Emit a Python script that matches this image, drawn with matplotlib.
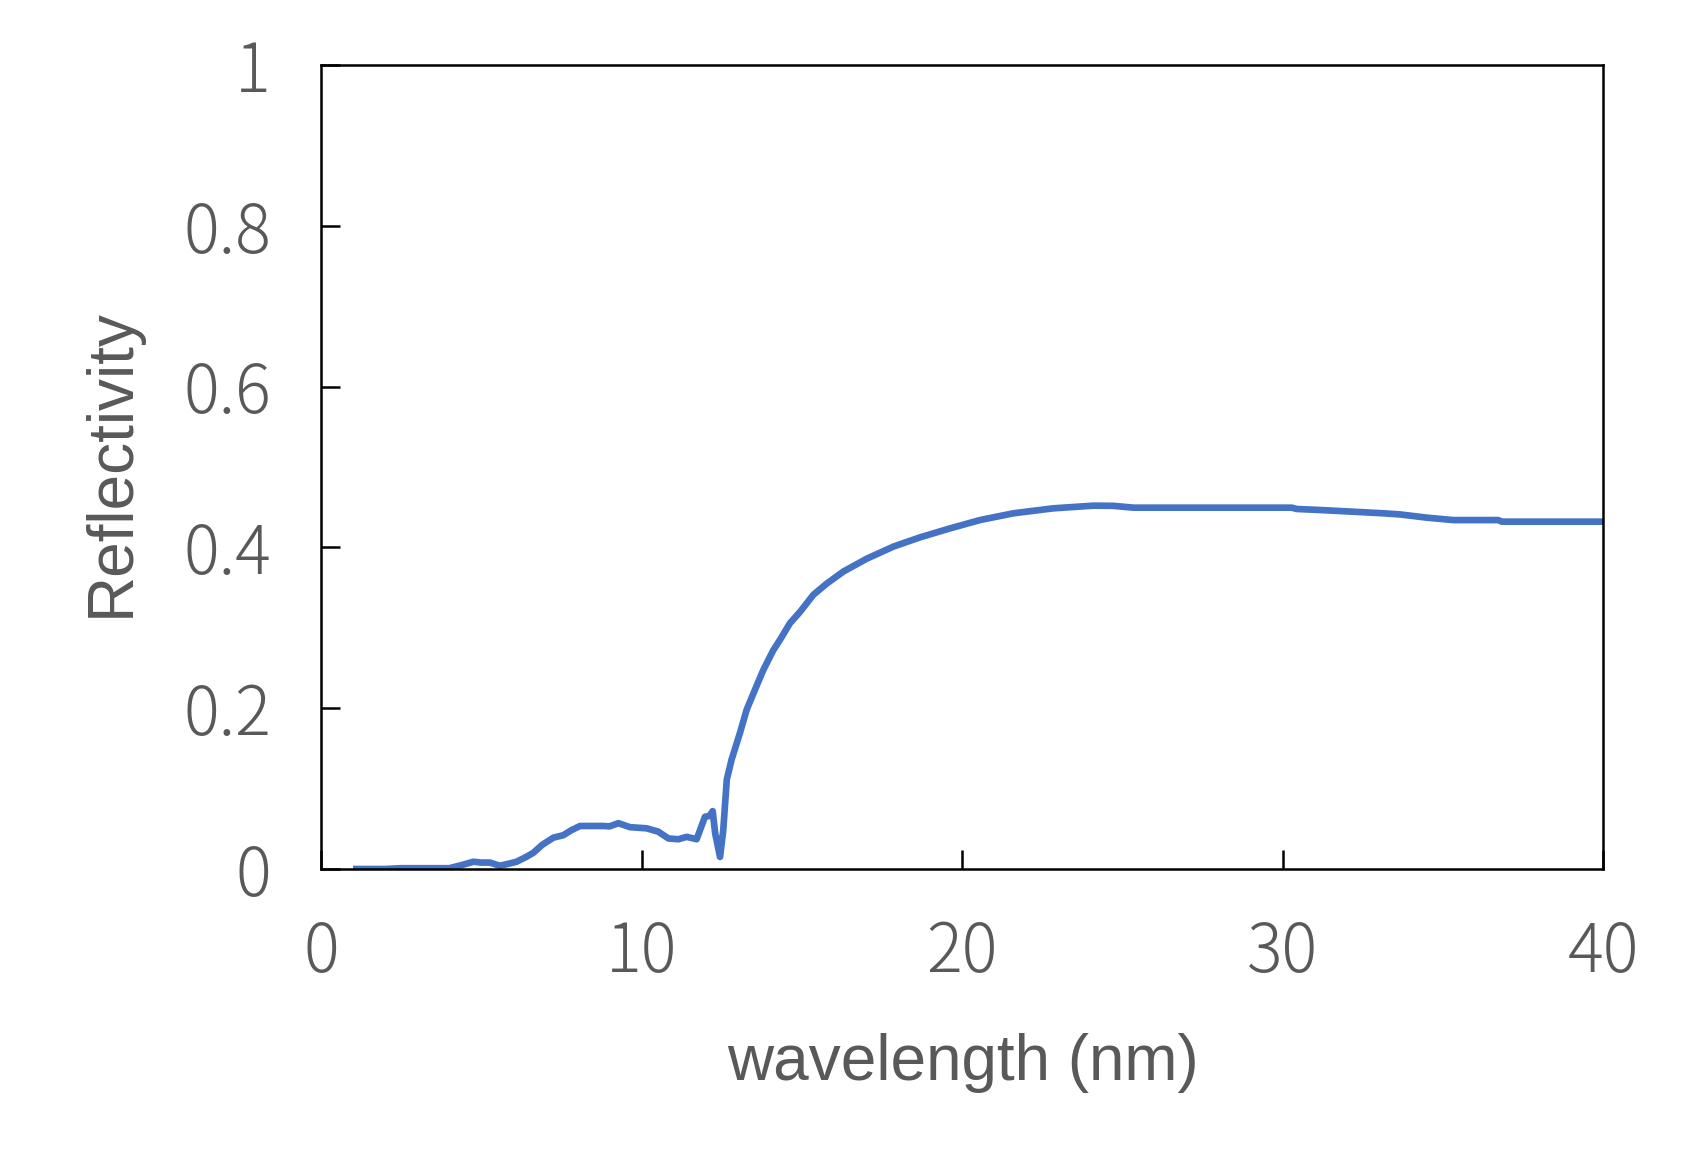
import matplotlib
matplotlib.use("Agg")
import matplotlib.pyplot as plt
import numpy as np

# reflectivity curve
wavelength = [1.0, 2.0, 2.5, 3.0, 4.0, 4.4, 4.75, 5.0, 5.27, 5.58, 5.9, 6.1,
              6.4, 6.62, 6.9, 7.25, 7.56, 7.8, 8.08, 8.4, 8.81, 9.0, 9.28,
              9.64, 10.16, 10.52, 10.84, 11.15, 11.41, 11.72, 11.98, 12.12,
              12.22, 12.3, 12.45, 12.55, 12.66, 12.81, 13.07, 13.28, 13.54,
              13.8, 14.11, 14.32, 14.63, 14.95, 15.36, 15.78, 16.3, 17.03,
              17.86, 18.69, 19.63, 20.56, 21.6, 22.85, 24.1, 24.72, 25.35,
              30.29, 30.44, 31.17, 32.2, 33.15, 33.67, 34.5, 35.33, 36.73,
              36.84, 40.0]
reflectivity = [0.0, 0.0, 0.001, 0.001, 0.001, 0.005, 0.009, 0.008, 0.008,
                0.004, 0.007, 0.009, 0.015, 0.020, 0.030, 0.039, 0.042, 0.048,
                0.0535, 0.0535, 0.0535, 0.053, 0.057, 0.052, 0.0506, 0.0465,
                0.038, 0.037, 0.040, 0.037, 0.065, 0.066, 0.072, 0.044, 0.015,
                0.048, 0.111, 0.136, 0.169, 0.198, 0.223, 0.2475, 0.272, 0.285,
                0.3056, 0.320, 0.341, 0.355, 0.370, 0.386, 0.401, 0.4125,
                0.4237, 0.434, 0.4424, 0.4486, 0.4519, 0.4517, 0.4494, 0.4494,
                0.4478, 0.4465, 0.4444, 0.4424, 0.441, 0.437, 0.434, 0.434,
                0.432, 0.432]

xticks = [0, 10, 20, 30, 40]
yticks = [0, 0.2, 0.4, 0.6, 0.8, 1]
ytick_labels = ["0", "0.2", "0.4", "0.6", "0.8", "1"]

text_color = "#595959"
line_color = "#4472C4"

fig = plt.figure(figsize=(16.89, 11.69), dpi=100)
ax = fig.add_axes([0.19006, 0.25663, 0.75903, 0.68777])

ax.plot(wavelength, reflectivity, color=line_color, linewidth=4.8,
        solid_joinstyle="round", solid_capstyle="butt")

ax.set_xlim(0, 40)
ax.set_ylim(0, 1)
ax.set_xticks(xticks)
ax.set_yticks(yticks)
ax.set_yticklabels(ytick_labels)

for s in ax.spines.values():
    s.set_linewidth(1.8)
    s.set_color("black")

ax.tick_params(direction="in", length=14, width=1.8, color="black",
               labelsize=48, labelcolor=text_color, pad=36)
for lab in ax.get_xticklabels() + ax.get_yticklabels():
    lab.set_family(["Noto Sans CJK JP", "DejaVu Sans"])
    lab.set_fontweight("light")

fig.text(0.5699, 0.0761, "wavelength (nm)", ha="center", va="baseline",
         fontsize=46, color=text_color, family=["Liberation Sans", "DejaVu Sans"])
fig.text(0.066, 0.604, "Reflectivity", ha="center", va="center", rotation=90,
         fontsize=46, color=text_color, family=["Liberation Sans", "DejaVu Sans"])

fig.savefig("out.png", dpi=100)
